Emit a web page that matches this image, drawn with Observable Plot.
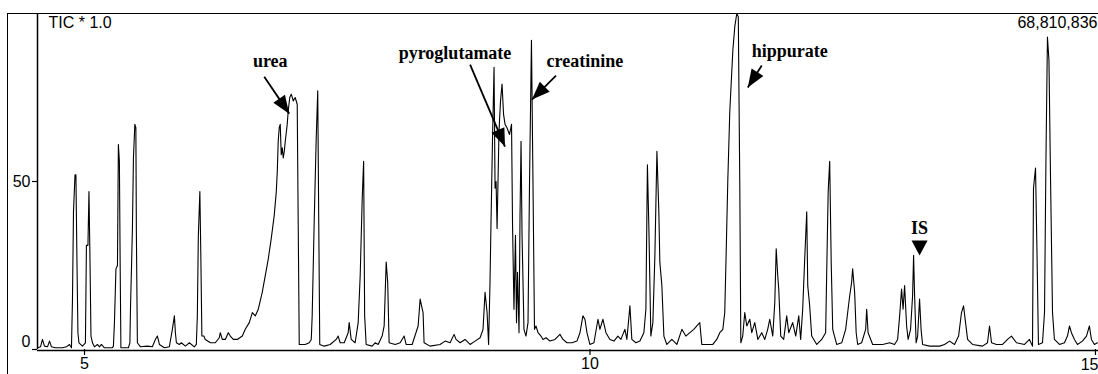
<!DOCTYPE html>
<html>
<head>
<meta charset="utf-8">
<script src="https://cdn.jsdelivr.net/npm/d3@7"></script>
<script src="https://cdn.jsdelivr.net/npm/@observablehq/plot@0.6"></script>
<style>
  html, body { margin: 0; padding: 0; background: #fff; }
  #chart { position: relative; width: 1098px; height: 374px; overflow: hidden; }
  #chart svg { position: absolute; left: 0; top: 0; }
  #chart .outer { position: absolute; left: 7px; top: 13px; right: -4px; bottom: -4px;
    border-left: 1.5px solid #000; border-top: 1.5px solid #000; pointer-events: none; }
</style>
</head>
<body>
<div id="chart"><div class="outer"></div></div>
<script>
// Total ion chromatogram: retention time (min) and relative intensity (% of 68,810,836 counts)
const time = [
  4.535, 4.565, 4.584, 4.604, 4.634, 4.654, 4.673, 4.713, 4.782, 4.822, 4.851, 4.871, 4.881, 4.891, 4.906, 4.915, 4.925, 4.935, 4.945, 4.980,
  5.009, 5.019, 5.034, 5.044, 5.054, 5.064, 5.079, 5.098, 5.128, 5.148, 5.167, 5.197, 5.276, 5.286, 5.296, 5.311, 5.326, 5.335, 5.345, 5.353,
  5.360, 5.434, 5.449, 5.454, 5.474, 5.484, 5.498, 5.508, 5.513, 5.523, 5.553, 5.622, 5.671, 5.701, 5.721, 5.741, 5.790, 5.839, 5.869, 5.889,
  5.899, 5.909, 5.938, 5.958, 5.998, 6.037, 6.086, 6.106, 6.116, 6.126, 6.141, 6.151, 6.161, 6.180, 6.195, 6.245, 6.294, 6.333, 6.343, 6.363,
  6.393, 6.422, 6.442, 6.472, 6.511, 6.561, 6.590, 6.630, 6.660, 6.689, 6.719, 6.758, 6.788, 6.818, 6.847, 6.877, 6.897, 6.907, 6.916, 6.926,
  6.936, 6.946, 6.956, 6.966, 6.976, 6.986, 7.005, 7.015, 7.030, 7.045, 7.065, 7.084, 7.104, 7.114, 7.124, 7.134, 7.183, 7.223, 7.243, 7.252,
  7.272, 7.292, 7.307, 7.317, 7.327, 7.371, 7.430, 7.490, 7.509, 7.529, 7.569, 7.608, 7.618, 7.638, 7.677, 7.707, 7.727, 7.747, 7.761, 7.771,
  7.786, 7.845, 7.875, 7.905, 7.944, 7.964, 7.984, 7.999, 8.013, 8.073, 8.122, 8.162, 8.181, 8.241, 8.300, 8.320, 8.334, 8.349, 8.359, 8.418,
  8.517, 8.567, 8.616, 8.656, 8.675, 8.715, 8.764, 8.814, 8.863, 8.913, 8.942, 8.962, 8.982, 8.997, 9.011, 9.021, 9.036, 9.051, 9.061, 9.071,
  9.081, 9.100, 9.115, 9.130, 9.145, 9.160, 9.179, 9.204, 9.224, 9.234, 9.248, 9.263, 9.273, 9.283, 9.298, 9.308, 9.318, 9.328, 9.347, 9.367,
  9.387, 9.402, 9.421, 9.436, 9.451, 9.466, 9.486, 9.515, 9.535, 9.565, 9.604, 9.654, 9.703, 9.733, 9.772, 9.822, 9.871, 9.901, 9.930, 9.950,
  9.970, 9.999, 10.039, 10.079, 10.098, 10.128, 10.158, 10.197, 10.237, 10.276, 10.306, 10.345, 10.365, 10.395, 10.414, 10.454, 10.494, 10.533, 10.553, 10.568,
  10.582, 10.602, 10.622, 10.642, 10.662, 10.681, 10.691, 10.711, 10.731, 10.760, 10.810, 10.859, 10.909, 10.948, 10.988, 11.027, 11.057, 11.086, 11.106, 11.156,
  11.215, 11.254, 11.284, 11.314, 11.333, 11.348, 11.363, 11.383, 11.398, 11.413, 11.432, 11.452, 11.467, 11.482, 11.492, 11.511, 11.531, 11.551, 11.581, 11.600,
  11.630, 11.660, 11.699, 11.729, 11.758, 11.778, 11.808, 11.828, 11.842, 11.857, 11.867, 11.887, 11.916, 11.946, 11.966, 12.005, 12.035, 12.065, 12.084, 12.104,
  12.124, 12.144, 12.154, 12.173, 12.193, 12.243, 12.292, 12.331, 12.341, 12.356, 12.371, 12.386, 12.401, 12.440, 12.490, 12.529, 12.549, 12.569, 12.588, 12.598,
  12.618, 12.633, 12.648, 12.687, 12.727, 12.737, 12.751, 12.796, 12.895, 12.964, 13.013, 13.043, 13.063, 13.082, 13.097, 13.112, 13.132, 13.147, 13.171, 13.191,
  13.201, 13.211, 13.226, 13.241, 13.260, 13.275, 13.290, 13.359, 13.458, 13.507, 13.557, 13.606, 13.646, 13.675, 13.695, 13.715, 13.735, 13.784, 13.883, 13.932,
  13.952, 13.972, 14.021, 14.081, 14.130, 14.169, 14.219, 14.298, 14.347, 14.377, 14.387, 14.407, 14.421, 14.436, 14.476, 14.496, 14.510, 14.525, 14.540, 14.555,
  14.575, 14.594, 14.644, 14.693, 14.723, 14.743, 14.762, 14.792, 14.822, 14.871, 14.911, 14.940, 14.960, 14.990, 15.019
];
const intensity = [
  0.5, 0.8, 3, 1, 0.8, 2.5, 0.8, 0.5, 0.5, 0.8, 1.5, 0.5, 15, 41, 52, 52, 27, 5, 2, 1,
  2, 31, 31, 47, 27, 4, 2, 0.8, 1.5, 0.8, 1.5, 0.5, 0.5, 1, 8, 24, 25, 61, 56, 24,
  0.5, 0.5, 2, 11, 36, 57, 67, 66, 35, 2, 0.8, 1, 0.8, 3, 4, 1.5, 0.5, 0.8, 6, 10,
  5, 2, 1.5, 2, 1, 2, 0.8, 1.5, 10, 34, 47, 27, 4, 4, 3, 2, 2, 3.5, 5, 3,
  3, 5, 4, 3, 3, 4, 6, 8, 11, 10, 12, 17, 22, 27, 33, 40, 47, 53, 62, 66,
  67, 58, 60, 57, 59, 62, 67, 71, 75, 76, 74, 75, 73, 37, 1.5, 1.5, 1.5, 2, 3, 10,
  38, 63, 77, 38, 1.5, 1, 1.5, 3, 4, 2, 2, 5, 8, 3, 2, 8, 22, 45, 56, 10,
  1.5, 1, 2, 1.5, 4, 7, 26, 20, 2, 1.5, 2, 4, 1.5, 1.5, 7, 15, 13, 11, 2, 1,
  1.5, 2.5, 2, 4.5, 3, 2, 3, 1.5, 2.5, 3.5, 6, 17, 11, 1.5, 20, 38, 63, 84, 48, 50,
  36, 65, 74, 79, 70, 67, 66, 64, 67, 37, 12, 34, 8, 23, 5, 40, 62, 34, 6, 4,
  8, 50, 92, 50, 6, 7, 5, 4, 3, 3.5, 2.5, 3, 4.5, 3, 2, 2, 2.5, 5, 10, 9,
  5, 1.5, 2, 9, 6, 9, 5, 3, 2.5, 4, 3, 6, 3, 13, 3, 2, 2.5, 5, 12, 55,
  37, 4, 8, 28, 59, 41, 26, 19, 4, 1.5, 3, 1.5, 6, 4, 5, 6, 7, 8, 1.5, 1.5,
  1.5, 3, 5, 6, 11, 30, 50, 71, 80, 89, 96, 100, 99, 48, 2, 4, 11, 7, 9, 5,
  8, 3, 5, 3, 6, 9, 4, 14, 30, 22, 18, 4, 3, 10, 5, 8, 4, 10, 3, 12,
  27, 41, 19, 13, 4, 1.5, 3, 5, 22, 47, 56, 26, 6, 1.5, 2, 6, 11, 16, 20, 24,
  17, 5, 1.5, 2, 6, 12, 5, 1.5, 1.5, 2, 1.5, 3, 10, 18, 12, 19, 7, 3, 6, 16,
  28, 16, 2, 4, 15, 6, 1.5, 1, 1, 1.5, 2.5, 1.5, 4, 11, 13, 8, 3, 1.5, 1, 2,
  7, 2, 1.5, 1.5, 3, 4, 2, 1.5, 3, 1, 48, 54, 30, 1.5, 2, 11, 56, 93, 86, 52,
  11, 3, 1.5, 2, 4, 7, 5, 3, 1.5, 2.5, 4, 7, 3, 1.5, 2
];
const xTicks = [5, 10, 15];
const yTicks = [0, 50];
const scaleNote = "TIC * 1.0";
const fullScale = "68,810,836";

// Named peaks: label anchor and arrow from the label to the peak
const peakNames = ["urea", "pyroglutamate", "creatinine", "hippurate"];
const labelTime = [6.837, 8.665, 9.950, 11.976];
const labelLevel = [84.2, 86.6, 84.2, 87.2];
const arrowFromTime = [6.778, 8.814, 9.664, 11.699];
const arrowFromLevel = [81.2, 84.8, 81.5, 84.5];
const arrowToTime = [7.025, 9.159, 9.426, 11.561];
const arrowToLevel = [70.2, 60.4, 74.4, 78.0];
// Internal standard marker
const isName = "IS";
const isTime = 13.26;
const isLabelLevel = 34.5;
const isMarkLevel = 28.0;

const width = 1098, height = 374;
const margin = {top: 13, right: 0, bottom: 25, left: 37};
const xDomain = [4.535, 15.03];
const yDomain = [0, 100];

const trace = time.map((t, i) => ({t, v: intensity[i]}));
const peaks = peakNames.map((name, i) => ({
  name, lt: labelTime[i], ll: labelLevel[i],
  t1: arrowFromTime[i], l1: arrowFromLevel[i], t2: arrowToTime[i], l2: arrowToLevel[i]
}));

// pixel mapping used only to orient the arrowheads along each arrow
const px = d3.scaleLinear(xDomain, [margin.left, width - margin.right]);
const py = d3.scaleLinear(yDomain, [height - margin.bottom, margin.top]);
const heading = d => Math.atan2(px(d.t2) - px(d.t1), -(py(d.l2) - py(d.l1))) * 180 / Math.PI;

// filled arrowhead with its tip at the anchor point, pointing up before rotation
const head = (len, wid) => ({
  draw(ctx) { ctx.moveTo(0, 0); ctx.lineTo(wid / 2, len); ctx.lineTo(-wid / 2, len); ctx.closePath(); }
});

const sans = "'Liberation Sans', Arial, sans-serif";
const serif = "'Liberation Serif', 'Times New Roman', serif";
const lastTick = xTicks[xTicks.length - 1];

const chart = Plot.plot({
  width, height,
  marginTop: margin.top, marginRight: margin.right, marginBottom: margin.bottom, marginLeft: margin.left,
  style: {background: "transparent", fontFamily: sans, fontSize: "16px", color: "#000"},
  x: {domain: xDomain},
  y: {domain: yDomain},
  marks: [
    Plot.ruleX([xDomain[0]], {y1: 0, y2: 100, stroke: "#000", strokeWidth: 1.5}),
    Plot.ruleY([0], {stroke: "#000", strokeWidth: 1.6, dy: 1}),
    // x ticks; the last label sits flush against the right edge
    Plot.axisX(xTicks, {tickSize: 6, tickPadding: 2, fontSize: 16, stroke: "#000", strokeWidth: 1.2,
      tickFormat: d => (d === lastTick ? "" : String(d))}),
    Plot.text([lastTick], {x: d => d, text: d => String(d), frameAnchor: "bottom", lineAnchor: "top",
      textAnchor: "end", dx: 3, dy: 9, fontSize: 16}),
    Plot.axisY([yTicks[1]], {tickSize: 5, tickPadding: 2, fontSize: 16, stroke: "#000", strokeWidth: 1.2}),
    Plot.axisY([yTicks[0]], {tickSize: 5, tickFormat: () => "", stroke: "#000", strokeWidth: 1.2}),
    Plot.axisY([yTicks[0]], {tickSize: 0, tickPadding: 7, fontSize: 16, dy: -8}),
    Plot.line(trace, {x: "t", y: "v", stroke: "#000", strokeWidth: 1.1, clip: true}),
    Plot.text([scaleNote], {text: d => d, frameAnchor: "top-left", textAnchor: "start", lineAnchor: "top", dx: 11, dy: 3, fontSize: 16}),
    Plot.text([fullScale], {text: d => d, frameAnchor: "top-right", textAnchor: "end", lineAnchor: "top", dx: -1, dy: 3, fontSize: 16}),
    Plot.link(peaks, {x1: "t1", y1: "l1", x2: "t2", y2: "l2", stroke: "#000", strokeWidth: 1.8}),
    Plot.dot(peaks, {x: "t2", y: "l2", symbol: head(18, 14), rotate: heading, fill: "#000", stroke: "none"}),
    Plot.text(peaks, {x: "lt", y: "ll", text: "name", textAnchor: "middle", lineAnchor: "bottom",
      fontFamily: serif, fontWeight: "bold", fontSize: 18}),
    Plot.text([isName], {x: isTime, y: isLabelLevel, text: d => d, textAnchor: "middle", lineAnchor: "bottom",
      fontFamily: serif, fontWeight: "bold", fontSize: 18}),
    Plot.dot([isName], {x: isTime, y: isMarkLevel, symbol: head(15, 16), rotate: 180, fill: "#000", stroke: "none"})
  ]
});
document.getElementById("chart").prepend(chart);
</script>
</body>
</html>
